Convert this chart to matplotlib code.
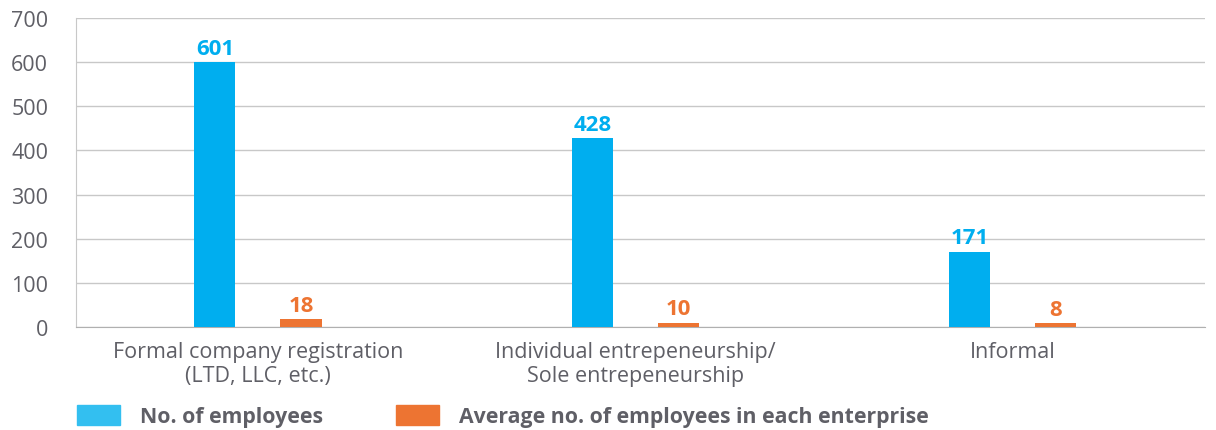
import numpy as np
import matplotlib.pyplot as plt
from matplotlib.patches import Patch

categories = ["Formal company registration\n(LTD, LLC, etc.)",
              "Individual entrepeneurship/\nSole entrepeneurship",
              "Informal"]
employees = [601, 428, 171]
avg_employees = [18, 10, 8]
series_names = ["No. of employees", "Average no. of employees in each enterprise"]

blue = "#00AEEF"
orange = "#ED7432"
grey_text = "#5f5f66"

plt.rcParams['font.family'] = ['Open Sans', 'DejaVu Sans']

fig = plt.figure(figsize=(12.16, 4.31), dpi=100)
ax = fig.add_axes([76 / 1216, 1 - 328 / 431, (1205 - 76) / 1216, (328 - 19) / 431])

x = np.arange(len(categories))
w = 0.109
off = 0.114
b1 = ax.bar(x - off, employees, w, color=blue, zorder=3)
b2 = ax.bar(x + off, avg_employees, w, color=orange, zorder=3)

for rect, v in zip(b1, employees):
    ax.text(rect.get_x() + rect.get_width() / 2, v + 7, str(v), ha="center", va="bottom",
            color=blue, fontsize=16, fontweight="bold")
for rect, v in zip(b2, avg_employees):
    ax.text(rect.get_x() + rect.get_width() / 2, v + 7, str(v), ha="center", va="bottom",
            color=orange, fontsize=16, fontweight="bold")

ax.set_xlim(-0.482, 2.509)
ax.set_ylim(0, 700)
ax.set_yticks(range(0, 701, 100))
ax.set_xticks(x)
ax.set_xticklabels(categories, fontsize=15.5, color=grey_text, linespacing=1.2)
ax.tick_params(axis="y", labelsize=15.5, labelcolor=grey_text, length=0, pad=20)
ax.tick_params(axis="x", length=0, pad=10)
ax.grid(axis="y", color="#c8c8c8", linewidth=1, zorder=0)
for s in ["top", "right"]:
    ax.spines[s].set_visible(False)
ax.spines["left"].set_color("#c8c8c8")
ax.spines["bottom"].set_color("#b0b0b0")

handles = [Patch(color="#33BFF0"), Patch(color=orange)]
fig.legend(handles, series_names, loc="lower left", bbox_to_anchor=(77 / 1216, 3 / 431),
           ncol=2, frameon=False, borderpad=0, borderaxespad=0,
           handlelength=2.0, handleheight=1.1, handletextpad=0.95,
           columnspacing=3.45, prop={"size": 15.3, "weight": "bold"}, labelcolor=grey_text)

fig.savefig("out.png", dpi=100)
